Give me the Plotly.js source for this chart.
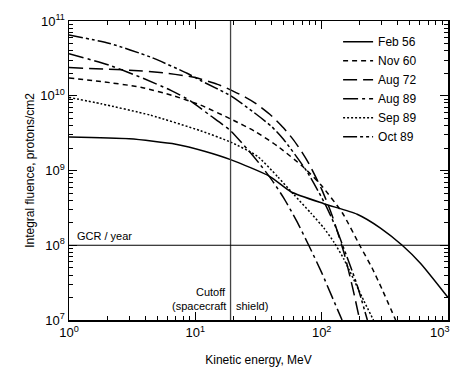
<!DOCTYPE html>
<html>
<head>
<meta charset="utf-8">
<script src="https://cdn.plot.ly/plotly-3.0.1.min.js"></script>
<style>
  html, body { margin: 0; padding: 0; background: #fff; }
  #chart { width: 453px; height: 367px; }
</style>
</head>
<body>
<div id="chart"></div>
<script>
// ---- data ----
const seriesNames = ["Feb 56", "Nov 60", "Aug 72", "Aug 89", "Sep 89", "Oct 89"];

const energyFeb56  = [1, 3, 7, 12, 19, 39, 57, 104, 191, 292, 434, 607, 1000];
const fluenceFeb56 = [2.8e9, 2.65e9, 2.25e9, 1.8e9, 1.4e9, 8.3e8, 5.2e8, 3.6e8, 2.6e8, 1.7e8, 1.0e8, 5.7e7, 2.0e7];

const energyNov60  = [1, 1.8, 3.7, 6.7, 11, 19, 30, 45, 70, 98, 146, 200, 250, 300, 385];
const fluenceNov60 = [1.73e10, 1.55e10, 1.3e10, 1.0e10, 7.5e9, 4.9e9, 3.3e9, 2.1e9, 1.15e9, 6.5e8, 2.7e8, 1.0e8, 5.0e7, 2.6e7, 1.0e7];

const energyAug72  = [1, 3, 6, 10, 15, 19, 25, 30, 40, 50, 60, 70, 80, 100, 120, 150, 175, 200];
const fluenceAug72 = [2.38e10, 2.2e10, 2.0e10, 1.75e10, 1.42e10, 1.2e10, 9.5e9, 7.9e9, 5.4e9, 3.7e9, 2.55e9, 1.75e9, 1.2e9, 5.6e8, 2.6e8, 8.0e7, 2.8e7, 1.0e7];

const energyAug89  = [1, 2.1, 3.9, 6.4, 9.2, 13, 19, 26, 32, 40, 50, 63, 79, 100, 120, 145];
const fluenceAug89 = [3.66e10, 2.55e10, 1.7e10, 1.18e10, 8.5e9, 5.5e9, 3.4e9, 1.9e9, 1.25e9, 7.6e8, 4.3e8, 2.15e8, 1.0e8, 4.3e7, 2.1e7, 1.0e7];

const energySep89  = [1, 1.8, 4.4, 11, 19, 31, 45, 60, 82, 104, 125, 150, 216, 257];
const fluenceSep89 = [9.5e9, 7.8e9, 5.5e9, 3.4e9, 2.4e9, 1.55e9, 8.2e8, 4.8e8, 2.7e8, 1.7e8, 1.1e8, 6.5e7, 1.8e7, 1.0e7];

const energyOct89  = [1, 2.1, 4.4, 8.6, 11, 19, 29, 40, 50, 77, 107, 130, 150, 190, 230];
const fluenceOct89 = [6.5e10, 5.0e10, 3.3e10, 2.0e10, 1.6e10, 1.0e10, 6.0e9, 3.9e9, 2.6e9, 9.5e8, 3.5e8, 1.7e8, 9.0e7, 3.0e7, 1.0e7];

const cutoffEnergy = 19;      // MeV, spacecraft shield cutoff
const gcrFluence = 1e8;       // GCR / year
const xRange = [1, 1000];
const yRange = [1e7, 1e11];

// the last x label (10^3) is drawn as an annotation so it stays inside the picture
const xTickVals = [1, 10, 100, 1000];
const xTickText = ["10<sup>0</sup>", "10<sup>1</sup>", "10<sup>2</sup>", ""];
const xLastTickText = "10<sup>3</sup>";
const yTickVals = [1e7, 1e8, 1e9, 1e10, 1e11];
const yTickText = ["10<sup>7</sup>", "10<sup>8</sup>", "10<sup>9</sup>", "10<sup>10</sup>", "10<sup>11</sup>"];

function minorTicks(decades) {
  const out = [];
  decades.forEach(d => { for (let m = 2; m <= 9; m++) out.push(m * d); });
  return out;
}

// ---- styles ----
const dashes = ["solid", "5px,4px", "14px,6px", "15px,4px,3px,4px", "2px,2px", "14px,3px,3px,3px,3px,3px"];
const energies = [energyFeb56, energyNov60, energyAug72, energyAug89, energySep89, energyOct89];
const fluences = [fluenceFeb56, fluenceNov60, fluenceAug72, fluenceAug89, fluenceSep89, fluenceOct89];

const traces = seriesNames.map((name, i) => ({
  type: "scatter",
  mode: "lines",
  name: name,
  x: energies[i],
  y: fluences[i],
  line: { color: "#000", width: 1.5, dash: dashes[i], shape: "spline", smoothing: 0.6 },
  hoverinfo: "skip"
}));

traces.push({
  type: "scatter", mode: "lines", showlegend: false, hoverinfo: "skip",
  x: [cutoffEnergy, cutoffEnergy], y: yRange,
  line: { color: "#444", width: 1.3 }
});
traces.push({
  type: "scatter", mode: "lines", showlegend: false, hoverinfo: "skip",
  x: xRange, y: [gcrFluence, gcrFluence],
  line: { color: "#000", width: 1 }
});

const font = "Arial, 'Liberation Sans', sans-serif";

const axisCommon = {
  type: "log",
  showgrid: false,
  zeroline: false,
  showline: true,
  linecolor: "#000",
  linewidth: 1.5,
  mirror: "ticks",
  ticks: "inside",
  ticklen: 8,
  tickwidth: 1.2,
  tickcolor: "#000",
  tickmode: "array",
  ticklabeloverflow: "allow",
  tickfont: { family: font, size: 13, color: "#000" }
};

const layout = {
  width: 453,
  height: 367,
  margin: { l: 69, r: 5, t: 21, b: 47 },
  paper_bgcolor: "#fff",
  plot_bgcolor: "#fff",
  font: { family: font, color: "#000" },
  showlegend: true,
  legend: {
    x: 0.71, y: 0.979, xanchor: "left", yanchor: "top",
    bgcolor: "rgba(0,0,0,0)",
    font: { family: font, size: 12, color: "#000" },
    tracegroupgap: 0
  },
  xaxis: Object.assign({}, axisCommon, {
    range: [Math.log10(xRange[0]), Math.log10(xRange[1])],
    tickvals: xTickVals, ticktext: xTickText,
    minor: { ticks: "inside", ticklen: 4, tickwidth: 1, tickcolor: "#000", showgrid: false,
             tickmode: "array", tickvals: minorTicks([1, 10, 100]) },
    title: { text: "Kinetic energy, MeV", font: { family: font, size: 12 }, standoff: 16 }
  }),
  yaxis: Object.assign({}, axisCommon, {
    range: [Math.log10(yRange[0]), Math.log10(yRange[1])],
    tickvals: yTickVals, ticktext: yTickText,
    minor: { ticks: "inside", ticklen: 4, tickwidth: 1, tickcolor: "#000", showgrid: false,
             tickmode: "array", tickvals: minorTicks([1e7, 1e8, 1e9, 1e10]) },
    title: { text: "Integral fluence, protons/cm2", font: { family: font, size: 12 }, standoff: 3 }
  }),
  annotations: [
    { xref: "paper", yref: "paper", x: 1, y: 0, text: xLastTickText,
      showarrow: false, xanchor: "right", yanchor: "top", xshift: 4, yshift: -2,
      font: { family: font, size: 13, color: "#000" } },
    { xref: "x", yref: "y", x: Math.log10(1.12), y: Math.log10(gcrFluence), text: "GCR / year",
      showarrow: false, xanchor: "left", yanchor: "bottom", yshift: 1, font: { family: font, size: 11 } },
    { xref: "x", yref: "y", x: Math.log10(cutoffEnergy), y: Math.log10(2.4e7), text: "Cutoff",
      showarrow: false, xanchor: "right", xshift: -3, font: { family: font, size: 11 } },
    { xref: "x", yref: "y", x: Math.log10(cutoffEnergy), y: Math.log10(1.53e7), text: "(spacecraft",
      showarrow: false, xanchor: "right", xshift: -3, font: { family: font, size: 11 } },
    { xref: "x", yref: "y", x: Math.log10(cutoffEnergy), y: Math.log10(1.53e7), text: "shield)",
      showarrow: false, xanchor: "left", xshift: 3, font: { family: font, size: 11 } }
  ]
};

Plotly.newPlot("chart", traces, layout, { staticPlot: true, displayModeBar: false });
</script>
</body>
</html>
